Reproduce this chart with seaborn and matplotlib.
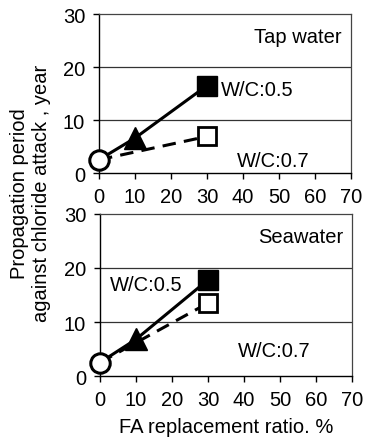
import matplotlib
matplotlib.use("Agg")
import matplotlib.pyplot as plt
import seaborn as sns
import pandas as pd

# FA replacement ratio (%) for each series
fa_wc05 = [0, 10, 30]
fa_wc07 = [0, 30]

# Propagation period (years)
tap_wc05 = [2.5, 6.6, 16.5]
tap_wc07 = [2.5, 6.9]
sea_wc05 = [2.5, 6.8, 17.8]
sea_wc07 = [2.5, 13.5]

panel_titles = ["Tap water", "Seawater"]
x_ticks = [0, 10, 20, 30, 40, 50, 60, 70]
y_ticks = [0, 10, 20, 30]

sns.set_theme(style="white")
plt.rcParams["font.family"] = ["Liberation Sans", "DejaVu Sans"]
plt.rcParams.update({"text.color": "black", "axes.labelcolor": "black",
                     "xtick.color": "black", "ytick.color": "black"})

FS = 14.5

fig = plt.figure(figsize=(3.66, 4.39), dpi=100)
ax_top = fig.add_axes([0.2705, 0.6036, 0.6885, 0.3622])
ax_bot = fig.add_axes([0.2732, 0.1412, 0.6885, 0.3691])

panels = [
    (ax_top, tap_wc05, tap_wc07, panel_titles[0],
     [(34.0, 15.8, "W/C:0.5"), (38.3, 2.3, "W/C:0.7")]),
    (ax_bot, sea_wc05, sea_wc07, panel_titles[1],
     [(2.8, 17.0, "W/C:0.5"), (38.3, 4.8, "W/C:0.7")]),
]

for ax, wc05, wc07, title, notes in panels:
    d05 = pd.DataFrame({"fa": fa_wc05, "t": wc05})
    d07 = pd.DataFrame({"fa": fa_wc07, "t": wc07})
    sns.lineplot(data=d05, x="fa", y="t", ax=ax, color="black", lw=2.2,
                 zorder=2)
    sns.lineplot(data=d07, x="fa", y="t", ax=ax, color="black", lw=2.2,
                 zorder=2)
    ax.lines[-1].set_dashes([4.4, 2.7])

    # markers: open circle at 0 %, filled triangle at 10 %, squares at 30 %
    ax.plot(fa_wc05[1], wc05[1], marker="^", ms=15.5, color="black",
            ls="none", zorder=3)
    ax.plot(fa_wc05[2], wc05[2], marker="s", ms=14, mfc="black",
            mec="black", ls="none", zorder=3)
    ax.plot(fa_wc07[1], wc07[1], marker="s", ms=13.5, mfc="white",
            mec="black", mew=2.0, ls="none", zorder=3)
    ax.plot(fa_wc05[0], wc05[0], marker="o", ms=14, mfc="white",
            mec="black", mew=2.2, ls="none", zorder=4, clip_on=False)

    ax.set_xlim(0, 70)
    ax.set_ylim(0, 30)
    ax.set_xticks(x_ticks)
    ax.set_yticks(y_ticks)
    ax.tick_params(axis="both", labelsize=FS, direction="out", length=4.5,
                   width=1, color="black", labelcolor="black", pad=5.5,
                   bottom=True, left=True)
    ax.set_xlabel("")
    ax.set_ylabel("")
    for yv in [10, 20]:
        ax.axhline(yv, color="#333333", lw=0.9, zorder=1)
    for side in ["top", "right"]:
        ax.spines[side].set_color("#444444")
        ax.spines[side].set_linewidth(0.9)
    for side in ["left", "bottom"]:
        ax.spines[side].set_color("black")
        ax.spines[side].set_linewidth(1.0)

    ax.text(67.5, 25.8, title, ha="right", va="center", fontsize=FS,
            color="black")
    for x, y, s in notes:
        ax.text(x, y, s, ha="left", va="center", fontsize=FS, color="black")

ax_bot.set_xlabel("FA replacement ratio. %", fontsize=FS, labelpad=6,
                  color="black")
fig.text(0.083, 0.56, "Propagation period\nagainst chloride attack , year",
         rotation=90, ha="center", va="center", fontsize=FS, color="black")

fig.savefig("out.png", dpi=100)
